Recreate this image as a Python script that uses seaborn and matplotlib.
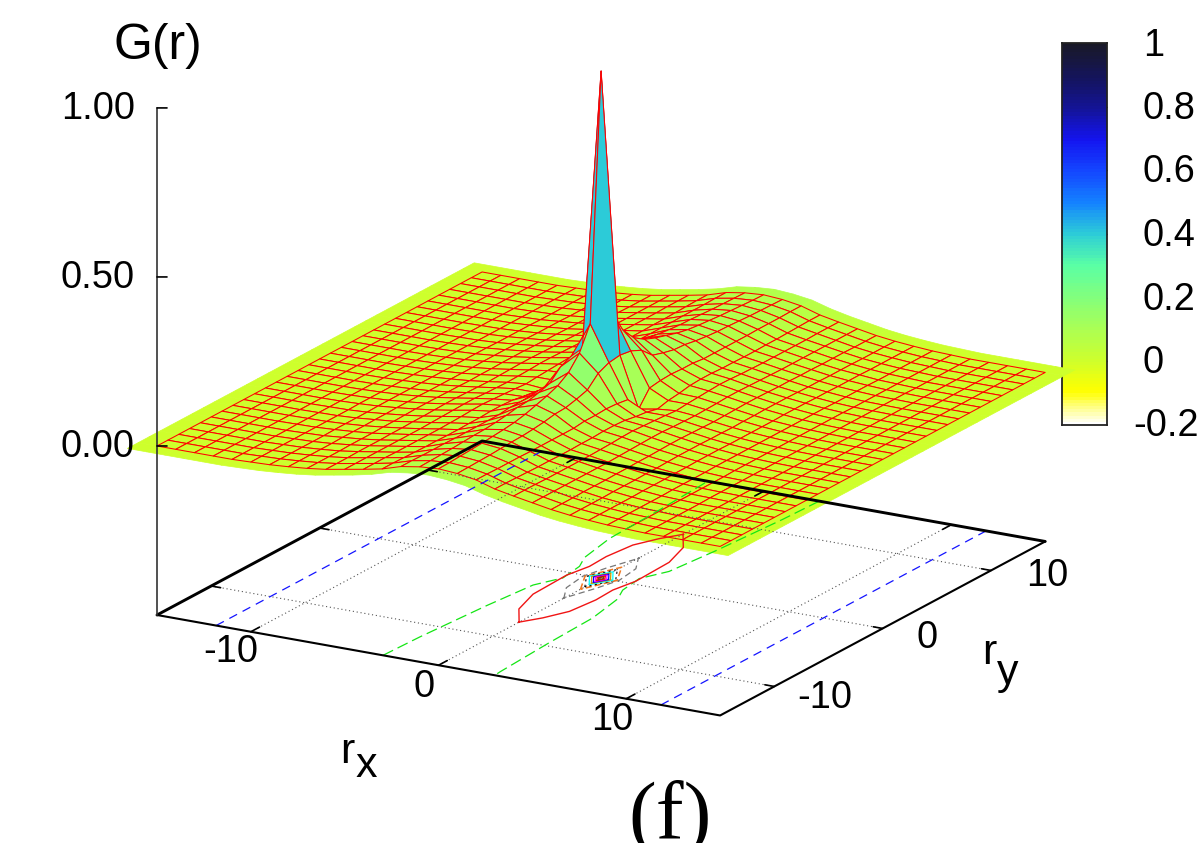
import numpy as np
import seaborn as sns
import matplotlib.pyplot as plt
from matplotlib.colors import Normalize
from mpl_toolkits.mplot3d import proj3d

# G(r), in thousandths, one quadrant: rows ry = 0..16, columns rx = 0..16
g_row_00 = [1000, 170, 20, 30, 35, 30, 22, 15, 10, 6, 3, 1, 0, 0, 0, 0, 0]
g_row_01 = [270, 165, 65, 38, 38, 31, 23, 16, 10, 6, 3, 1, 0, 0, 0, 0, 0]
g_row_02 = [200, 150, 70, 42, 40, 32, 24, 16, 10, 6, 3, 1, 0, 0, 0, 0, 0]
g_row_03 = [160, 118, 72, 48, 42, 34, 25, 17, 11, 6, 3, 1, 0, 0, 0, 0, 0]
g_row_04 = [138, 108, 70, 50, 44, 34, 25, 17, 11, 6, 3, 1, 0, 0, 0, 0, 0]
g_row_05 = [125, 100, 70, 50, 43, 33, 24, 17, 11, 6, 3, 1, 0, 0, 0, 0, 0]
g_row_06 = [115, 98, 66, 48, 41, 32, 23, 16, 10, 5, 2, 1, 0, 0, 0, 0, 0]
g_row_07 = [105, 92, 66, 48, 40, 31, 23, 15, 10, 5, 2, 1, 0, 0, 0, 0, 0]
g_row_08 = [98, 88, 66, 47, 39, 30, 22, 15, 9, 5, 2, 1, 0, 0, 0, 0, 0]
g_row_09 = [94, 85, 66, 47, 39, 30, 22, 14, 9, 5, 2, 1, 0, 0, 0, 0, 0]
g_row_10 = [91, 84, 66, 48, 39, 30, 21, 14, 9, 4, 2, 0, 0, 0, 0, 0, 0]
g_row_11 = [88, 82, 67, 48, 39, 30, 21, 14, 8, 4, 2, 0, 0, 0, 0, 0, 0]
g_row_12 = [86, 80, 67, 49, 39, 30, 21, 13, 8, 4, 2, 0, 0, 0, 0, 0, 0]
g_row_13 = [84, 79, 67, 50, 40, 30, 20, 13, 8, 4, 2, 0, 0, 0, 0, 0, 0]
g_row_14 = [82, 78, 68, 51, 40, 30, 20, 13, 8, 4, 2, 0, 0, 0, 0, 0, 0]
g_row_15 = [81, 77, 68, 51, 40, 30, 20, 13, 8, 4, 2, 0, 0, 0, 0, 0, 0]
g_row_16 = [80, 76, 68, 52, 40, 30, 20, 13, 8, 4, 2, 0, 0, 0, 0, 0, 0]

# contour lines on the base, half of each, the other half is the point mirror
blue_rx = [-11.85, -11.85]
blue_ry = [-15, 15]
green_rx = [-2.96, -2.86, -2.53, -2.21, -1.55, -1.75, -2.21, -2.63, -2.74, -2.95, -3.0]
green_ry = [-15, -11.75, -6.19, -2.45, -0.84, 1.04, 2.30, 5.33, 9.5, 14.46, 15]
red_rx = [0.02, -0.99, -1.53, -1.61, -1.35, -1.41, -1.21, -0.63, 0.02]
red_ry = [-7.6, -5.87, -3.63, -0.41, 1.26, 2.92, 5.02, 6.47, 7.6]
gray_rx = [0.03, -0.68, -0.88, -0.55, 0.03]
gray_ry = [-3.5, -2.03, -0.16, 1.43, 3.5]
orange_rx = [0.0, -0.8, 0.0]
orange_ry = [-1.9, -0.1, 1.9]
black_rx = [0.0, -0.72, 0.0]
black_ry = [-1.5, -0.1, 1.5]
core_rx = [0.62, 0.5, 0.4, 0.3, 0.2, 0.12]
core_ry = [1.1, 0.9, 0.72, 0.55, 0.4, 0.25]
core_colors = ["cyan", "#c8a000", "blue", "magenta", "red", "#7a3a10"]

tick_rx = [-10, 0, 10]
tick_ry = [-10, 0, 10]
tick_g = [0.0, 0.5, 1.0]
scale_ticks = [1, 0.8, 0.6, 0.4, 0.2, 0, -0.2]
scale_colors = ["#ffffff", "#ffff00", "#cdff2d", "#aaff55", "#82ff7d", "#5affa5", "#2dcdd7",
                "#1482ff", "#1446ff", "#1414f0", "#141496", "#14145a", "#191928"]

W, H = 1203, 843
ZBASE = -0.5

sns.set_theme(style="white")
plt.rcParams["font.family"] = ["Liberation Sans", "DejaVu Sans"]
cmap = sns.blend_palette(scale_colors, n_colors=256, as_cmap=True)
norm = Normalize(-0.2, 1)

quad = np.array([g_row_00, g_row_01, g_row_02, g_row_03, g_row_04, g_row_05, g_row_06, g_row_07, g_row_08,
                 g_row_09, g_row_10, g_row_11, g_row_12, g_row_13, g_row_14, g_row_15, g_row_16]) / 1000
top = np.hstack([quad[:, :0:-1], quad])
G = np.vstack([top[:0:-1], top])
rx = np.arange(-16, 17)
X, Y = np.meshgrid(rx, rx)
G_mean = (G[:-1, :-1] + G[1:, :-1] + G[:-1, 1:] + G[1:, 1:]) / 4
face = cmap(norm(G_mean))

fig = plt.figure(figsize=(W / 100, H / 100), dpi=100)
fig.patch.set_facecolor("white")


def fx(x):
    return x / W


def fy(y):
    return 1 - y / H


# colour scale
cax = fig.add_axes([fx(1062), fy(425), 45 / W, 382 / H], zorder=0)
levels = np.linspace(1, -0.2, 121).reshape(-1, 1)
sns.heatmap(levels, cmap=cmap, vmin=-0.2, vmax=1, cbar=False, ax=cax, xticklabels=False, yticklabels=False)
cax.set_yticks([(1 - v) / 1.2 * 121 for v in scale_ticks[1:-1]])
cax.tick_params(axis="y", direction="in", left=True, right=True, labelleft=False, labelright=False,
                length=7, width=1, color="black")
for s in cax.spines.values():
    s.set_visible(True)
    s.set_color("#222222")
    s.set_linewidth(1.3)

# surface
ax = fig.add_axes([0, 0, 1, 1], projection="3d", proj_type="ortho", zorder=1, computed_zorder=False)
ax.set_axis_off()
ax.patch.set_alpha(0)
ax.view_init(elev=18, azim=-60)
ax.set_box_aspect((650, 650, 533))
ax.plot_surface(X, Y, G, facecolors=face, rstride=1, cstride=1, shade=False, linewidth=0.5, zorder=1)
mesh = ax.plot_surface(X[1:-1, 1:-1], Y[1:-1, 1:-1], G[1:-1, 1:-1], facecolors=face[1:-1, 1:-1],
                       rstride=1, cstride=1, shade=False, linewidth=0.75, zorder=2)
mesh.set_edgecolor("#ff0000")


def base_line(xs, ys, **kw):
    ax.plot(xs, ys, zs=ZBASE, zorder=4, **kw)


def mirrored(xs, ys):
    return list(xs) + [-v for v in xs], list(ys) + [-v for v in ys]


# grid and contours on the base
dotted = dict(color="#555555", lw=0.8, ls=(0, (1, 2.5)))
for t in tick_rx:
    base_line([t, t], [-15, 15], **dotted)
    base_line([t, t], [-15, -14.2], color="black", lw=1.2)
    base_line([t, t], [15, 14.2], color="black", lw=1.2)
for t in tick_ry:
    base_line([-15, 15], [t, t], **dotted)
    base_line([-15, -14.5], [t, t], color="black", lw=1.2)
    base_line([15, 14.5], [t, t], color="black", lw=1.2)

blue_dash = dict(color="#1414ff", lw=0.9, ls=(0, (7, 5)))
green_dash = dict(color="#14e614", lw=0.9, ls=(0, (9, 4)))
base_line(blue_rx, blue_ry, **blue_dash)
base_line([-v for v in blue_rx], blue_ry, **blue_dash)
base_line(green_rx, green_ry, **green_dash)
base_line([-v for v in green_rx], [-v for v in green_ry], **green_dash)
base_line(*mirrored(red_rx, red_ry), color="#f01414", lw=1.0)
base_line(*mirrored(gray_rx, gray_ry), color="#777777", lw=0.9, ls=(0, (5, 3)))
base_line(*mirrored(orange_rx, orange_ry), color="#f07820", lw=1.1, ls=(0, (4, 2)))
base_line(*mirrored(black_rx, black_ry), color="black", lw=0.8, ls=(0, (2, 3)))
for w, h, c in zip(core_rx, core_ry, core_colors):
    base_line([0, -w, 0, w, 0], [-h, 0, h, 0, -h], color=c, lw=0.9)

# frame
base_line([-15, 15, 15], [-15, -15, 15], color="black", lw=1.5)
base_line([-15, -15, 15], [-15, 15, 15], color="black", lw=2.1)
ax.plot([-15, -15], [-15, -15], [ZBASE, 1.0], color="#333333", lw=1.2, zorder=4)
for t in tick_g:
    ax.plot([-15, -14.6], [-15, -14.77], [t, t], color="black", lw=1.2, zorder=4)

ax.set_xlim(-15, 15, view_margin=0)
ax.set_ylim(-15, 15, view_margin=0)
ax.set_zlim(ZBASE, 1.0, view_margin=0)


def corner_px(x, y, z):
    ax.apply_aspect()
    xs, ys, _ = proj3d.proj_transform(x, y, z, ax.get_proj())
    return np.array(ax.transData.transform((xs, ys)))


# put the base corners where they belong in the figure
size = float(H)
ax.set_position([0, 0, size / W, size / H])
a, b = corner_px(-15, -15, ZBASE), corner_px(15, -15, ZBASE)
size *= np.hypot(563, 101) / np.linalg.norm(b - a)
ax.set_position([0, 0, size / W, size / H])
off = np.array([157, H - 615]) - corner_px(-15, -15, ZBASE)
ax.set_position([off[0] / W, off[1] / H, size / W, size / H])


def label(x, y, s, size=27.4, ha="left", va="center", **kw):
    fig.text(fx(x), fy(y), s, fontsize=size, ha=ha, va=va, color="black", **kw)


label(135, 109, "1.00", ha="right")
label(135, 278, "0.50", ha="right")
label(135, 447, "0.00", ha="right")
label(113, 46, "G(r)", size=36)

label(1143, 46, "1")
label(1143, 109, "0.8")
label(1143, 172, "0.6")
label(1143, 236, "0.4")
label(1143, 300, "0.2")
label(1143, 363, "0")
label(1133, 426, "-0.2")

label(231, 652, "-10", ha="center")
label(424, 687, "0", ha="center")
label(612, 720, "10", ha="center")
label(825, 698, "-10", ha="center")
label(927, 638, "0", ha="center")
label(1047, 576, "10", ha="center")

label(340, 752, "r", size=31)
label(356, 766, "x", size=31)
label(982, 653, "r", size=31)
label(997, 673, "y", size=31)

fig.text(fx(670), fy(838), "(f)", fontsize=60, ha="center", va="baseline", color="black",
         family="Liberation Serif")

fig.savefig("out.png", dpi=100)
